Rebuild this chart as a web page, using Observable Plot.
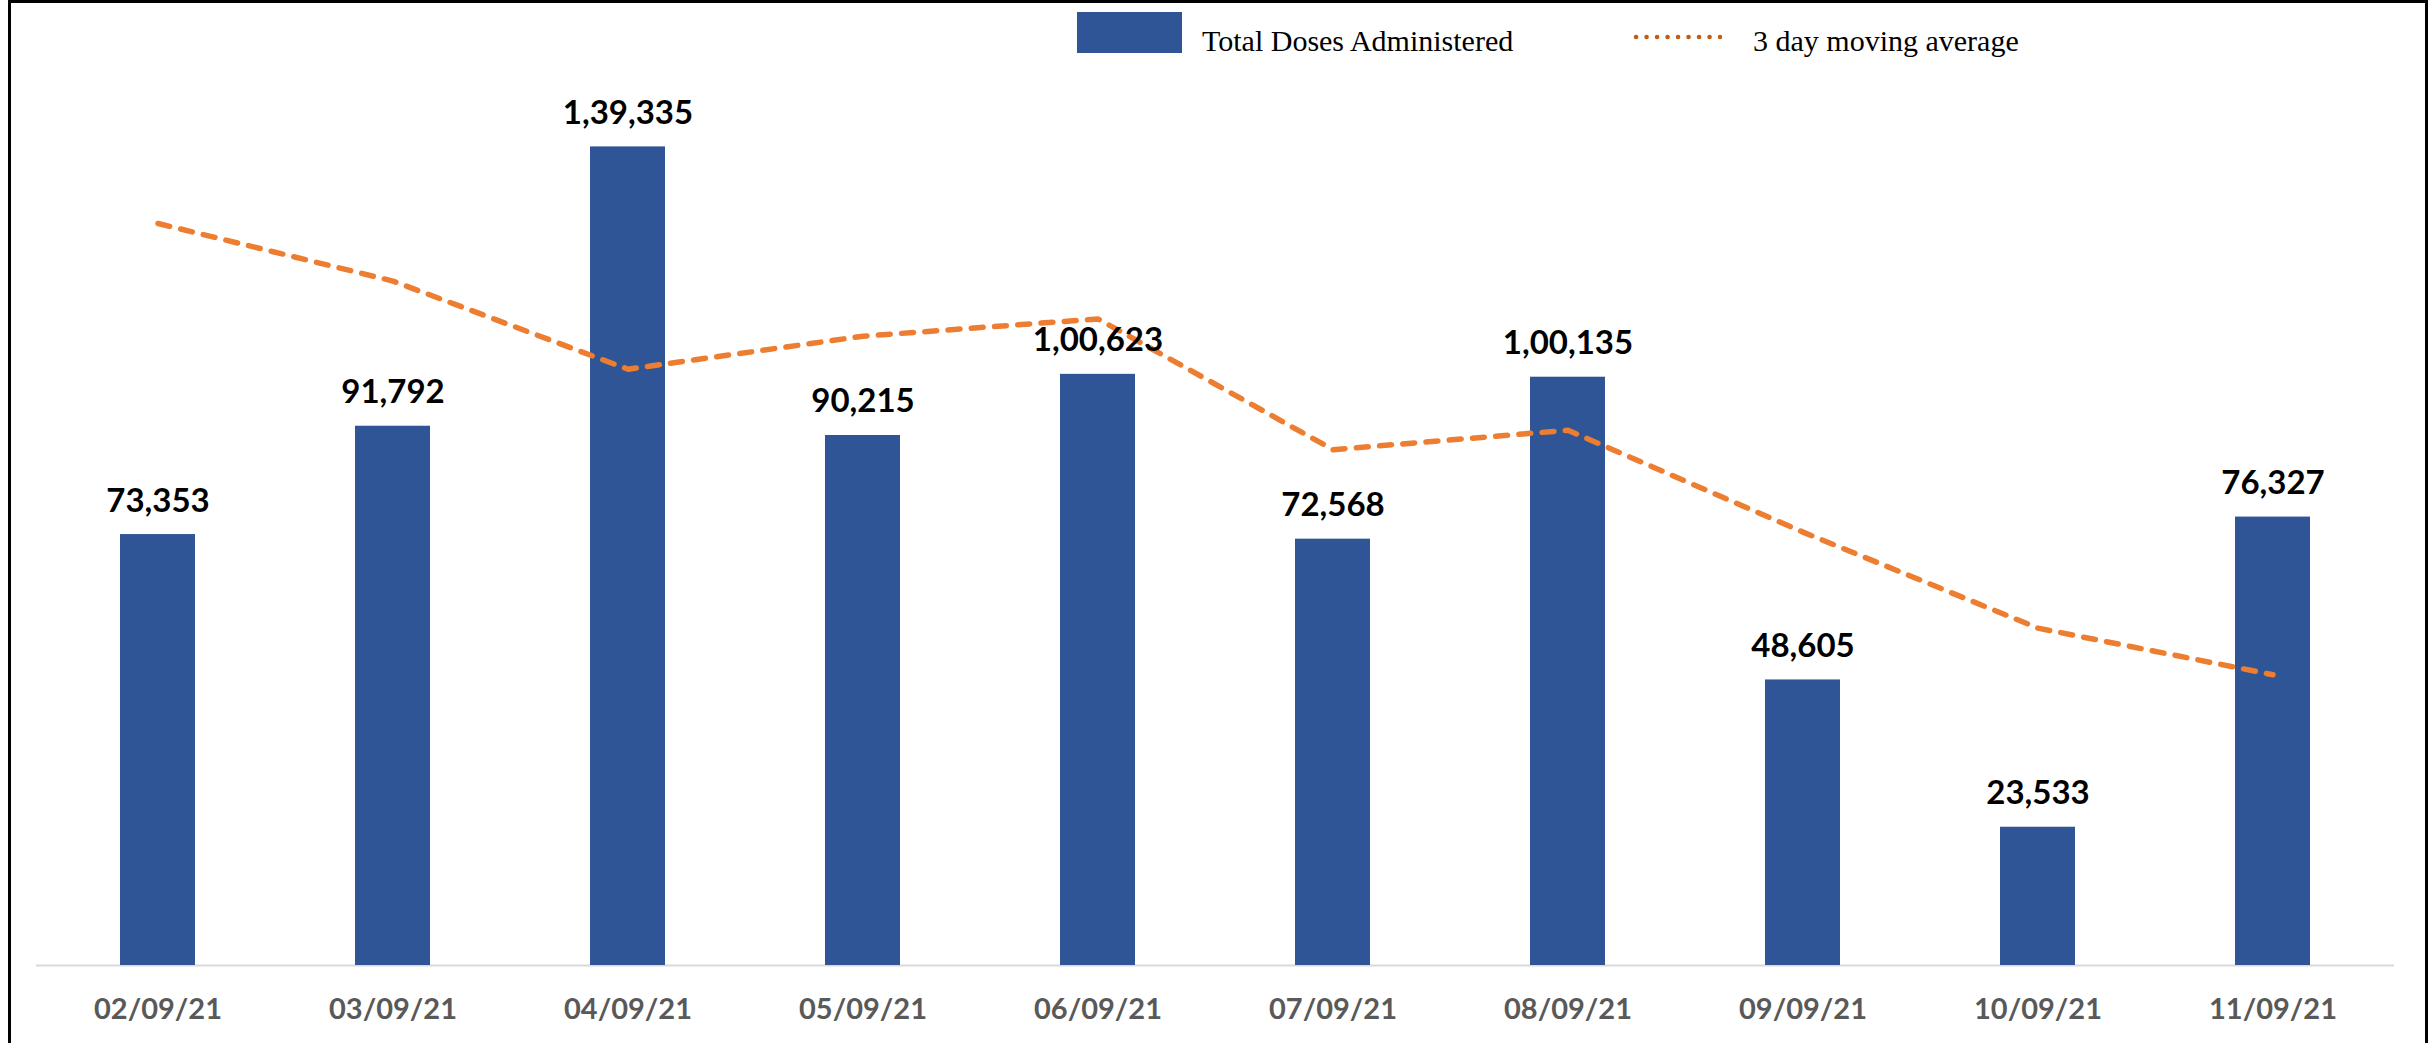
<!DOCTYPE html>
<html>
<head>
<meta charset="utf-8">
<script src="https://cdn.jsdelivr.net/npm/d3@7"></script>
<script src="https://cdn.jsdelivr.net/npm/@observablehq/plot@0.6"></script>
<style>
  html, body { margin: 0; padding: 0; background: #fff; }
  #wrap { position: relative; width: 2435px; height: 1043px; overflow: hidden; }
  #frame { position: absolute; left: 8px; top: 0; width: 2420px; height: 1100px; box-sizing: border-box;
           border: 3px solid #000; border-bottom: none; pointer-events: none; }
  #chart { position: absolute; left: 0; top: 0; }
  #legend { position: absolute; left: 0; top: 0; width: 2435px; height: 60px;
            font-family: "Liberation Serif", "Times New Roman", serif; font-size: 30px; color: #000; }
  .sw { position: absolute; left: 1077px; top: 12px; width: 105px; height: 41px; background: #2F5597; }
  .lt { position: absolute; top: 50px; transform: translateY(-80%); white-space: nowrap; line-height: 1; }
  #dots { position: absolute; left: 1630px; top: 30px; }
</style>
</head>
<body>
<div id="wrap">
  <div id="chart"></div>
  <div id="legend">
    <div class="sw"></div>
    <div class="lt" style="left:1202px">Total Doses Administered</div>
    <svg id="dots" width="95" height="14"><line x1="6" x2="90" y1="7" y2="7" stroke="#C55A11" stroke-width="4.5" stroke-dasharray="0.1,10.4" stroke-linecap="round"/></svg>
    <div class="lt" style="left:1753px">3 day moving average</div>
  </div>
  <div id="frame"></div>
</div>
<script>
const dates = ["02/09/21","03/09/21","04/09/21","05/09/21","06/09/21","07/09/21","08/09/21","09/09/21","10/09/21","11/09/21"];
const doses = [73353, 91792, 139335, 90215, 100623, 72568, 100135, 48605, 23533, 76327];
const movingAvg = [126300, 116500, 101493, 107114, 110058, 87802, 91109, 73769, 57424, 49488];

function fmtIN(n) {
  const s = String(Math.round(n));
  if (s.length <= 3) return s;
  const last3 = s.slice(-3);
  let rest = s.slice(0, -3);
  const parts = [];
  while (rest.length > 2) { parts.unshift(rest.slice(-2)); rest = rest.slice(0, -2); }
  if (rest.length) parts.unshift(rest);
  return parts.join(",") + "," + last3;
}

const data = dates.map((d, i) => ({date: d, doses: doses[i], ma: movingAvg[i]}));

const chart = Plot.plot({
  width: 2435,
  height: 1043,
  marginTop: 25,
  marginBottom: 78,
  marginLeft: 36,
  marginRight: 41,
  style: {fontFamily: "Lato, 'Open Sans', sans-serif", background: "transparent"},
  x: {domain: dates, paddingInner: 0.68, paddingOuter: 0.34, label: null},
  y: {domain: [0, 160000], axis: null},
  marks: [
    Plot.ruleY([0], {stroke: "#D9D9D9", strokeWidth: 2}),
    Plot.barY(data, {x: "date", y: "doses", fill: "#2F5597"}),
    Plot.line(data, {x: "date", y: "ma", stroke: "#ED7D31", strokeWidth: 5.5, strokeDasharray: "12,11.3", strokeLinecap: "round"}),
    Plot.text(data, {x: "date", y: "doses", text: d => fmtIN(d.doses), dy: -23, lineAnchor: "bottom",
                     fontSize: 33, fontWeight: "bold", fill: "#000"}),
    Plot.axisX({tickSize: 0, tickPadding: 33, fontSize: 29, fontWeight: "bold", color: "#595959", label: null})
  ]
});
document.getElementById("chart").appendChild(chart);
</script>
</body>
</html>
